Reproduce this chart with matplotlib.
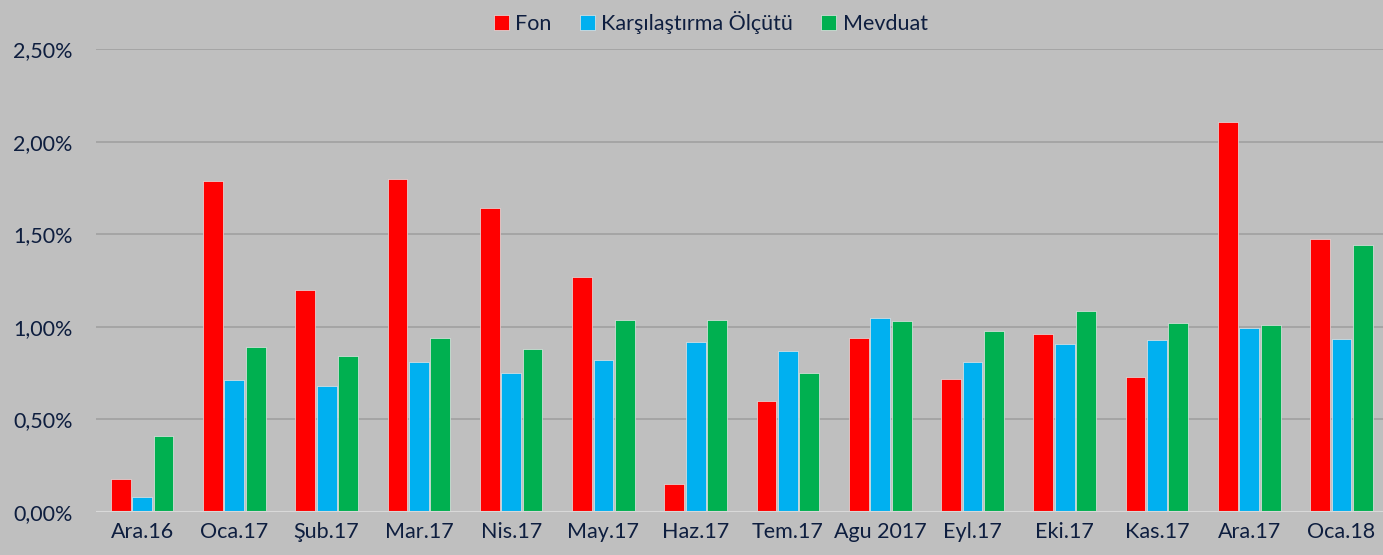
import matplotlib.pyplot as plt
import numpy as np
from matplotlib.ticker import FuncFormatter

# month labels
months = ['Ara.16', 'Oca.17', 'Şub.17', 'Mar.17', 'Nis.17', 'May.17', 'Haz.17',
          'Tem.17', 'Agu 2017', 'Eyl.17', 'Eki.17', 'Kas.17', 'Ara.17', 'Oca.18']

# monthly returns in percent
fon = [0.178, 1.787, 1.199, 1.798, 1.641, 1.269, 0.151,
       0.599, 0.940, 0.718, 0.961, 0.729, 2.106, 1.474]
karsilastirma = [0.081, 0.713, 0.680, 0.810, 0.751, 0.821, 0.918,
                 0.869, 1.048, 0.810, 0.907, 0.929, 0.994, 0.934]
mevduat = [0.410, 0.891, 0.842, 0.940, 0.880, 1.037, 1.037,
           0.751, 1.031, 0.977, 1.085, 1.021, 1.010, 1.442]

series_names = ['Fon', 'Karşılaştırma Ölçütü', 'Mevduat']

BG = '#BFBFBF'
TEXT = '#0E1E3F'
colors = ['#FF0000', '#00B0F0', '#00B050']

plt.rcParams['font.family'] = ['Lato', 'DejaVu Sans']

fig = plt.figure(figsize=(13.83, 5.55), dpi=100, facecolor=BG)
ax = fig.add_axes([96 / 1383, 43 / 555, 1 - 96 / 1383, (512 - 49) / 555])
ax.set_facecolor(BG)

x = np.arange(len(months))
width = 0.215
offsets = [-0.232, 0.0, 0.232]
for data, off, c, name in zip([fon, karsilastirma, mevduat], offsets, colors, series_names):
    ax.bar(x + off, data, width, color=c, label=name, edgecolor='#E6E6E6',
           linewidth=0.5, zorder=3)

ax.set_ylim(0, 2.5)
ax.set_yticks(np.arange(0, 2.51, 0.5))
ax.yaxis.set_major_formatter(FuncFormatter(lambda v, p: f'{v:.2f}%'.replace('.', ',')))
ax.set_xlim(-0.5, 13.45)
ax.set_xticks(x)
ax.set_xticklabels(months)

ax.grid(axis='y', color='#A0A0A0', linewidth=1.2, zorder=0)
ax.axhline(0, color='#D9D9D9', linewidth=1.5, zorder=4)
for s in ax.spines.values():
    s.set_visible(False)
ax.tick_params(axis='both', length=0, labelsize=15.5, colors=TEXT)
ax.tick_params(axis='y', pad=17)
ax.tick_params(axis='x', pad=7)

leg = fig.legend(loc='upper center', bbox_to_anchor=(0.514, 1.015), ncol=3,
                 frameon=False, fontsize=15.5, handlelength=0.7, handleheight=0.7,
                 handletextpad=0.3, columnspacing=1.3)
for t in leg.get_texts():
    t.set_color(TEXT)

plt.savefig('out.png', dpi=100, facecolor=BG)
plt.close()
